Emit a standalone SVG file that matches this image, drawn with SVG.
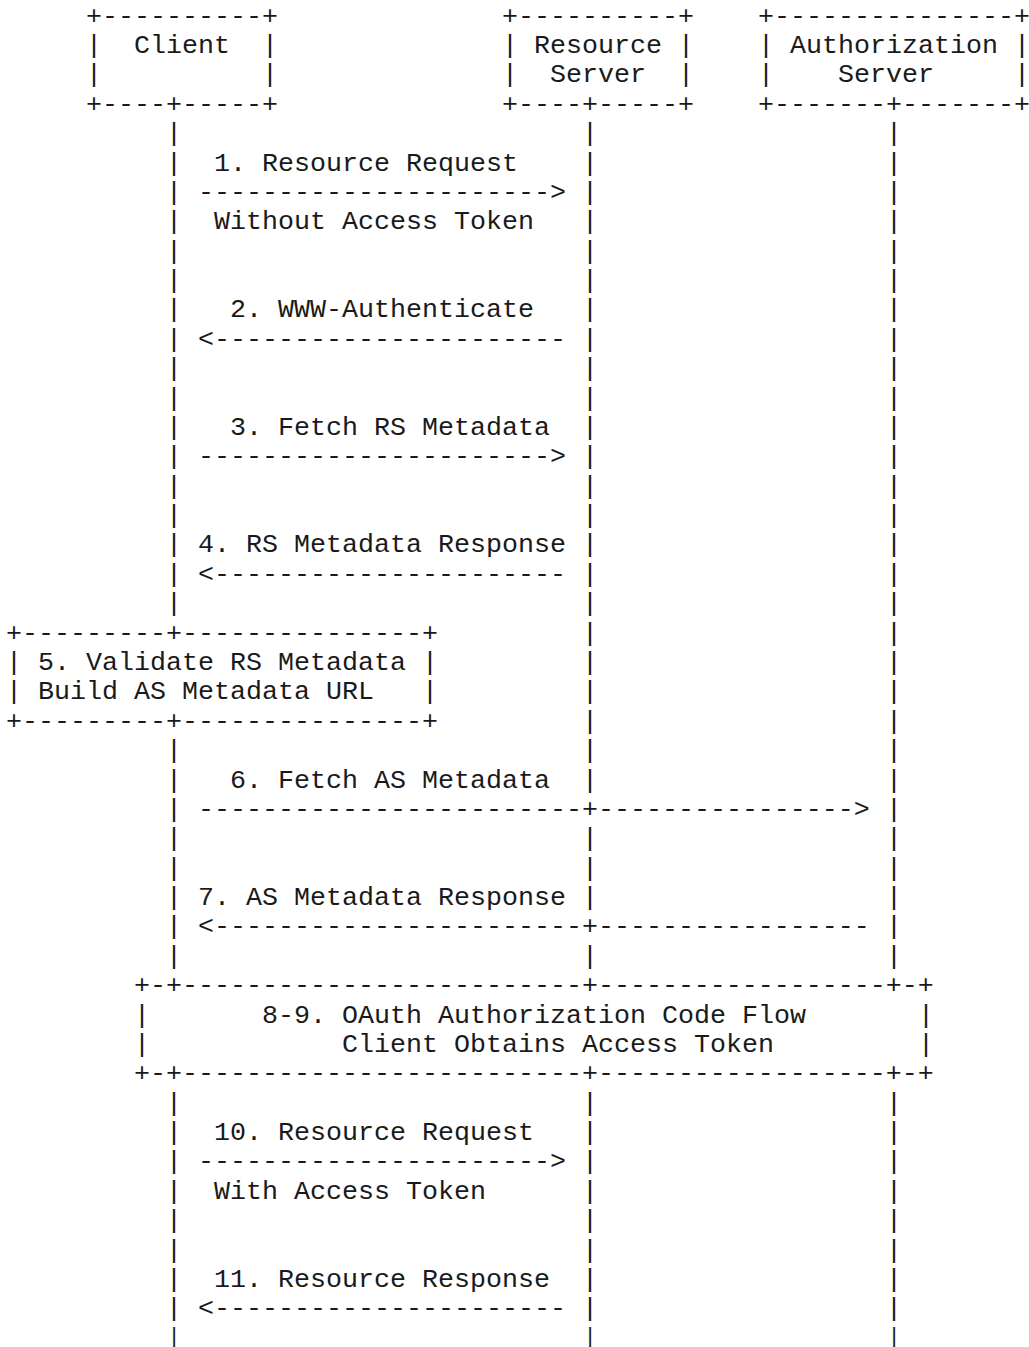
<svg xmlns="http://www.w3.org/2000/svg" width="1029" height="1347" viewBox="0 0 1029 1347" xml:space="preserve">
<style>
text { font-family: "Liberation Mono", "DejaVu Sans Mono", monospace; font-size: 26.66px; fill: #1a1a1a; white-space: pre; }
text.end { font-size: 22px; }
</style>
<rect x="0" y="0" width="1029" height="1347" fill="#ffffff"/>
<g id="client">
<text x="86" y="23.6">+----------+</text>
<text x="86" y="53">|</text><text x="134" y="53">Client</text><text x="262" y="53">|</text>
<text x="86" y="82.4">|</text><text x="262" y="82.4">|</text>
<text x="86" y="111.7">+----+-----+</text>
</g>
<g id="resource-server">
<text x="502" y="23.6">+----------+</text>
<text x="502" y="53">|</text><text x="534" y="53">Resource</text><text x="678" y="53">|</text>
<text x="502" y="82.4">|</text><text x="550" y="82.4">Server</text><text x="678" y="82.4">|</text>
<text x="502" y="111.7">+----+-----+</text>
</g>
<g id="authorization-server">
<text x="758" y="23.6">+---------------+</text>
<text x="758" y="53">|</text><text x="790" y="53">Authorization</text><text x="1014" y="53">|</text>
<text x="758" y="82.4">|</text><text x="838" y="82.4">Server</text><text x="1014" y="82.4">|</text>
<text x="758" y="111.7">+-------+-------+</text>
</g>
<g id="step5-validate">
<text x="6" y="640.6">+---------+---------------+</text>
<text x="6" y="670">|</text><text x="38" y="670">5. Validate RS Metadata</text><text x="422" y="670">|</text>
<text x="6" y="699.3">|</text><text x="38" y="699.3">Build AS Metadata URL</text><text x="422" y="699.3">|</text>
<text x="6" y="728.7">+---------+---------------+</text>
</g>
<g id="step8-9-oauth">
<text x="134" y="993.1">+-+-------------------------+------------------+-+</text>
<text x="134" y="1022.5">|</text><text x="262" y="1022.5">8-9. OAuth Authorization Code Flow</text><text x="918" y="1022.5">|</text>
<text x="134" y="1051.9">|</text><text x="342" y="1051.9">Client Obtains Access Token</text><text x="918" y="1051.9">|</text>
<text x="134" y="1081.3">+-+-------------------------+------------------+-+</text>
</g>
<g id="connectors">
<g id="lifelines">
<text><tspan x="166" y="141.1">|</tspan><tspan x="166" y="170.5">|</tspan><tspan x="166" y="199.9">|</tspan><tspan x="166" y="229.3">|</tspan><tspan x="166" y="258.6">|</tspan><tspan x="166" y="288">|</tspan><tspan x="166" y="317.4">|</tspan><tspan x="166" y="346.8">|</tspan><tspan x="166" y="376.2">|</tspan><tspan x="166" y="405.5">|</tspan><tspan x="166" y="434.9">|</tspan><tspan x="166" y="464.3">|</tspan><tspan x="166" y="493.7">|</tspan><tspan x="166" y="523.1">|</tspan><tspan x="166" y="552.4">|</tspan><tspan x="166" y="581.8">|</tspan><tspan x="166" y="611.2">|</tspan><tspan x="166" y="758.1">|</tspan><tspan x="166" y="787.5">|</tspan><tspan x="166" y="816.9">|</tspan><tspan x="166" y="846.2">|</tspan><tspan x="166" y="875.6">|</tspan><tspan x="166" y="905">|</tspan><tspan x="166" y="934.4">|</tspan><tspan x="166" y="963.8">|</tspan><tspan x="166" y="1110.7">|</tspan><tspan x="166" y="1140">|</tspan><tspan x="166" y="1169.4">|</tspan><tspan x="166" y="1198.8">|</tspan><tspan x="166" y="1228.2">|</tspan><tspan x="166" y="1257.6">|</tspan><tspan x="166" y="1286.9">|</tspan><tspan x="166" y="1316.3">|</tspan></text>
<text><tspan x="582" y="141.1">|</tspan><tspan x="582" y="170.5">|</tspan><tspan x="582" y="199.9">|</tspan><tspan x="582" y="229.3">|</tspan><tspan x="582" y="258.6">|</tspan><tspan x="582" y="288">|</tspan><tspan x="582" y="317.4">|</tspan><tspan x="582" y="346.8">|</tspan><tspan x="582" y="376.2">|</tspan><tspan x="582" y="405.5">|</tspan><tspan x="582" y="434.9">|</tspan><tspan x="582" y="464.3">|</tspan><tspan x="582" y="493.7">|</tspan><tspan x="582" y="523.1">|</tspan><tspan x="582" y="552.4">|</tspan><tspan x="582" y="581.8">|</tspan><tspan x="582" y="611.2">|</tspan><tspan x="582" y="640.6">|</tspan><tspan x="582" y="670">|</tspan><tspan x="582" y="699.3">|</tspan><tspan x="582" y="728.7">|</tspan><tspan x="582" y="758.1">|</tspan><tspan x="582" y="787.5">|</tspan><tspan x="582" y="846.2">|</tspan><tspan x="582" y="875.6">|</tspan><tspan x="582" y="905">|</tspan><tspan x="582" y="963.8">|</tspan><tspan x="582" y="1110.7">|</tspan><tspan x="582" y="1140">|</tspan><tspan x="582" y="1169.4">|</tspan><tspan x="582" y="1198.8">|</tspan><tspan x="582" y="1228.2">|</tspan><tspan x="582" y="1257.6">|</tspan><tspan x="582" y="1286.9">|</tspan><tspan x="582" y="1316.3">|</tspan></text>
<text><tspan x="886" y="141.1">|</tspan><tspan x="886" y="170.5">|</tspan><tspan x="886" y="199.9">|</tspan><tspan x="886" y="229.3">|</tspan><tspan x="886" y="258.6">|</tspan><tspan x="886" y="288">|</tspan><tspan x="886" y="317.4">|</tspan><tspan x="886" y="346.8">|</tspan><tspan x="886" y="376.2">|</tspan><tspan x="886" y="405.5">|</tspan><tspan x="886" y="434.9">|</tspan><tspan x="886" y="464.3">|</tspan><tspan x="886" y="493.7">|</tspan><tspan x="886" y="523.1">|</tspan><tspan x="886" y="552.4">|</tspan><tspan x="886" y="581.8">|</tspan><tspan x="886" y="611.2">|</tspan><tspan x="886" y="640.6">|</tspan><tspan x="886" y="670">|</tspan><tspan x="886" y="699.3">|</tspan><tspan x="886" y="728.7">|</tspan><tspan x="886" y="758.1">|</tspan><tspan x="886" y="787.5">|</tspan><tspan x="886" y="816.9">|</tspan><tspan x="886" y="846.2">|</tspan><tspan x="886" y="875.6">|</tspan><tspan x="886" y="905">|</tspan><tspan x="886" y="934.4">|</tspan><tspan x="886" y="963.8">|</tspan><tspan x="886" y="1110.7">|</tspan><tspan x="886" y="1140">|</tspan><tspan x="886" y="1169.4">|</tspan><tspan x="886" y="1198.8">|</tspan><tspan x="886" y="1228.2">|</tspan><tspan x="886" y="1257.6">|</tspan><tspan x="886" y="1286.9">|</tspan><tspan x="886" y="1316.3">|</tspan></text>
<text class="end" x="167.4" y="1342.5">|</text>
<text class="end" x="583.4" y="1342.5">|</text>
<text class="end" x="887.4" y="1342.5">|</text>
</g>
<g id="msg1">
<text x="214" y="170.5">1. Resource Request</text>
<text x="198" y="199.9">----------------------&gt;</text>
<text x="214" y="229.3">Without Access Token</text>
</g>
<g id="msg2">
<text x="230" y="317.4">2. WWW-Authenticate</text>
<text x="198" y="346.8">&lt;----------------------</text>
</g>
<g id="msg3">
<text x="230" y="434.9">3. Fetch RS Metadata</text>
<text x="198" y="464.3">----------------------&gt;</text>
</g>
<g id="msg4">
<text x="198" y="552.4">4. RS Metadata Response</text>
<text x="198" y="581.8">&lt;----------------------</text>
</g>
<g id="msg6">
<text x="230" y="787.5">6. Fetch AS Metadata</text>
<text x="198" y="816.9">------------------------+----------------&gt;</text>
</g>
<g id="msg7">
<text x="198" y="905">7. AS Metadata Response</text>
<text x="198" y="934.4">&lt;-----------------------+-----------------</text>
</g>
<g id="msg10">
<text x="214" y="1140">10. Resource Request</text>
<text x="198" y="1169.4">----------------------&gt;</text>
<text x="214" y="1198.8">With Access Token</text>
</g>
<g id="msg11">
<text x="214" y="1286.9">11. Resource Response</text>
<text x="198" y="1316.3">&lt;----------------------</text>
</g>
</g>
</svg>
